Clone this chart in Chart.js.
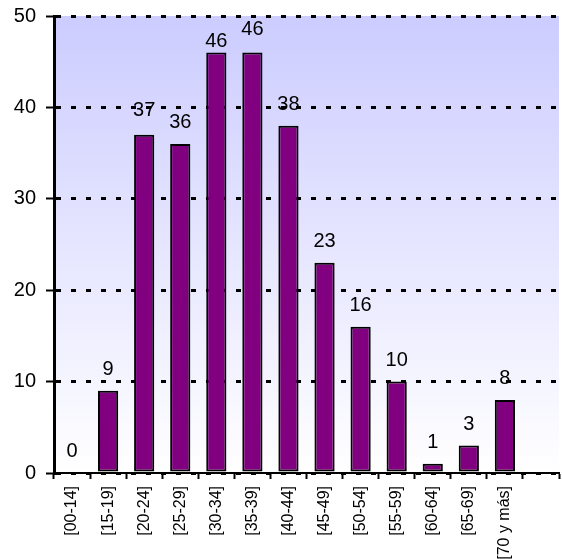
<!DOCTYPE html>
<html>
<head>
<meta charset="utf-8">
<script src="https://cdn.jsdelivr.net/npm/chart.js@4/dist/chart.umd.min.js"></script>
<style>
  html, body { margin: 0; padding: 0; background: #ffffff; }
  #wrap { width: 562px; height: 559px; position: relative; }
</style>
</head>
<body>
<div id="wrap"><canvas id="c" width="562" height="559"></canvas></div>
<script>
const categories = ["[00-14]", "[15-19]", "[20-24]", "[25-29]", "[30-34]", "[35-39]", "[40-44]", "[45-49]", "[50-54]", "[55-59]", "[60-64]", "[65-69]", "[70 y más]", ""];
const counts = [0, 9, 37, 36, 46, 46, 38, 23, 16, 10, 1, 3, 8, null];
const yTicks = [0, 10, 20, 30, 40, 50];

const FONT = "'Liberation Sans', Arial, sans-serif";

const bgPlugin = {
  id: 'bg',
  beforeDraw(chart) {
    const { ctx, chartArea: a } = chart;
    ctx.save();
    ctx.fillStyle = '#ffffff';
    ctx.fillRect(0, 0, chart.width, chart.height);
    const g = ctx.createLinearGradient(0, a.top, 0, a.bottom);
    g.addColorStop(0, '#ccccff');
    g.addColorStop(1, '#ffffff');
    ctx.fillStyle = g;
    ctx.fillRect(a.left, a.top, a.right - a.left, a.bottom - a.top);
    ctx.restore();
  }
};

const labelPlugin = {
  id: 'vlabels',
  afterDatasetsDraw(chart, args, opts) {
    const { ctx } = chart;
    const meta = chart.getDatasetMeta(0);
    const gaps = opts.gaps || {};
    ctx.save();
    ctx.fillStyle = '#000000';
    ctx.font = '20px ' + FONT;
    ctx.textAlign = 'center';
    ctx.textBaseline = 'alphabetic';
    meta.data.forEach((el, i) => {
      const v = counts[i];
      if (v === null || v === undefined) return;
      const gap = gaps[i] !== undefined ? gaps[i] : 16;
      ctx.fillText(String(v), el.x, el.y - gap);
    });
    ctx.restore();
  }
};

new Chart(document.getElementById('c'), {
  type: 'bar',
  data: {
    labels: categories,
    datasets: [{
      data: counts,
      backgroundColor: '#800080',
      borderColor: '#000000',
      borderWidth: 2,
      borderSkipped: false,
      categoryPercentage: 1.0,
      barPercentage: 0.56
    }]
  },
  options: {
    responsive: false,
    animation: false,
    devicePixelRatio: 1,
    layout: { padding: { top: 16, right: 3, left: 0, bottom: 0 } },
    plugins: {
      legend: { display: false },
      tooltip: { enabled: false },
      vlabels: { gaps: { 2: 19, 4: 6, 5: 18 } }
    },
    scales: {
      x: {
        offset: true,
        grid: {
          offset: true,
          drawOnChartArea: false,
          drawTicks: true,
          tickLength: 6,
          tickColor: '#000000',
          tickWidth: 2
        },
        border: { display: true, color: '#000000', width: 2 },
        ticks: {
          color: '#000000',
          font: { family: FONT, size: 16 },
          minRotation: 90,
          maxRotation: 90,
          autoSkip: false,
          padding: 7
        },
        afterFit(scale) {
          scale.height = 86;
          scale.paddingLeft = 0;
          scale.paddingRight = 0;
        }
      },
      y: {
        min: 0,
        max: 50,
        afterBuildTicks(scale) { scale.ticks = yTicks.map(v => ({ value: v })); },
        grid: {
          color: '#000000',
          lineWidth: 3,
          drawTicks: true,
          tickLength: 8,
          tickColor: '#000000',
          tickWidth: 2,
          tickBorderDash: []
        },
        border: { display: true, color: '#000000', width: 3, dash: [5, 10] },
        ticks: {
          color: '#000000',
          font: { family: FONT, size: 20 },
          padding: 10
        },
        afterFit(scale) {
          scale.width = 54;
          scale.paddingTop = 0;
          scale.paddingBottom = 0;
        }
      }
    }
  },
  plugins: [bgPlugin, labelPlugin]
});
</script>
</body>
</html>
